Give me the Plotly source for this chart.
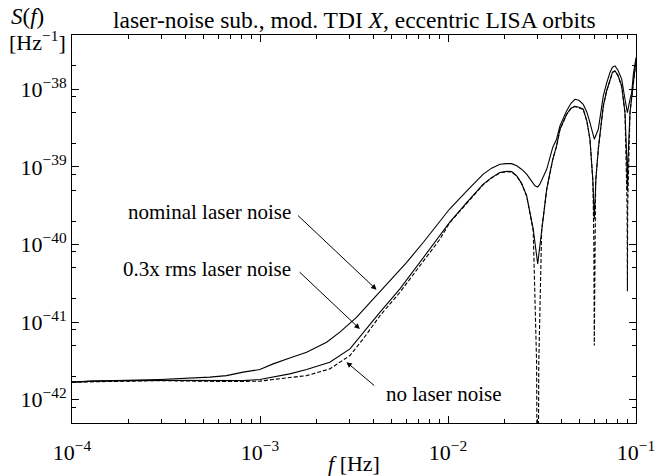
import plotly.graph_objects as go

# ---------------- data ----------------
f_nominal = [1.0e-4, 1.29e-4, 2.93e-4, 4.41e-4, 5.41e-4, 6.64e-4, 8.13e-4, 9.98e-4,
             1.175e-3, 1.44e-3, 1.77e-3, 2.26e-3, 2.66e-3, 3.26e-3, 4.00e-3, 4.91e-3,
             6.03e-3, 7.38e-3, 9.06e-3, 1.02e-2, 1.26e-2, 1.54e-2, 1.706e-2, 1.89e-2,
             2.05e-2, 2.18e-2, 2.32e-2, 2.46e-2, 2.62e-2, 2.76e-2, 2.90e-2, 3.00e-2,
             3.08e-2, 3.35e-2, 3.49e-2, 3.61e-2, 3.78e-2, 3.94e-2, 4.27e-2, 4.51e-2,
             4.73e-2, 4.97e-2, 5.24e-2, 5.48e-2, 5.69e-2, 6.00e-2, 6.30e-2, 6.70e-2,
             6.97e-2, 7.27e-2, 7.50e-2, 7.73e-2, 8.02e-2, 8.39e-2, 8.74e-2, 9.00e-2,
             9.29e-2, 9.49e-2, 9.68e-2, 1.0e-1]
S_nominal = [1.68e-42, 1.73e-42, 1.82e-42, 1.89e-42, 1.95e-42, 2.04e-42, 2.26e-42, 2.44e-42,
             2.89e-42, 3.45e-42, 4.09e-42, 5.50e-42, 7.40e-42, 1.15e-41, 1.98e-41, 3.41e-41,
             5.89e-41, 1.06e-40, 1.97e-40, 2.86e-40, 4.91e-40, 8.05e-40, 9.62e-40, 1.08e-39,
             1.10e-39, 1.10e-39, 1.03e-39, 9.33e-40, 8.05e-40, 6.75e-40, 5.69e-40, 5.5e-40,
             5.98e-40, 9.3e-40, 1.39e-39, 1.79e-39, 2.27e-39, 3.37e-39, 5.26e-39, 6.60e-39,
             7.43e-39, 7.21e-39, 6.41e-39, 5.06e-39, 3.72e-39, 2.27e-39, 3.05e-39, 8.20e-39,
             1.19e-38, 1.64e-38, 1.92e-38, 2.00e-38, 1.76e-38, 1.35e-38, 7.43e-39, 5.01e-39,
             7.4e-39, 9.07e-39, 1.56e-38, 2.56e-38]

f_03x = [1.0e-4, 1.29e-4, 2.93e-4, 4.41e-4, 6.64e-4, 8.13e-4, 9.98e-4, 1.175e-3,
         1.44e-3, 1.77e-3, 2.35e-3, 3.01e-3, 3.54e-3, 4.35e-3, 5.55e-3, 7.09e-3,
         9.06e-3, 1.02e-2, 1.26e-2, 1.54e-2, 1.706e-2, 1.89e-2, 2.05e-2, 2.18e-2,
         2.32e-2, 2.46e-2, 2.62e-2, 2.84e-2, 3.00e-2, 3.15e-2, 3.35e-2, 3.49e-2,
         3.61e-2, 3.78e-2, 3.94e-2, 4.27e-2, 4.51e-2, 4.73e-2, 4.97e-2, 5.24e-2,
         5.48e-2, 5.69e-2, 5.89e-2, 6.00e-2, 6.12e-2, 6.30e-2, 6.70e-2, 6.97e-2,
         7.27e-2, 7.50e-2, 7.73e-2, 8.02e-2, 8.39e-2, 8.74e-2, 8.93e-2, 9.00e-2,
         9.07e-2, 9.29e-2, 9.68e-2, 1.0e-1]
S_03x = [1.68e-42, 1.73e-42, 1.77e-42, 1.76e-42, 1.73e-42, 1.76e-42, 1.82e-42, 1.95e-42,
         2.15e-42, 2.44e-42, 3.04e-42, 4.51e-42, 7.40e-42, 1.34e-41, 2.67e-41, 5.89e-41,
         1.29e-40, 1.92e-40, 3.48e-40, 5.98e-40, 7.26e-40, 8.47e-40, 8.75e-40, 8.67e-40,
         7.66e-40, 6.17e-40, 4.24e-40, 1.58e-40, 5.60e-41, 1.58e-40, 5.16e-40, 8.47e-40,
         1.26e-39, 1.86e-39, 3.05e-39, 4.77e-39, 5.69e-39, 6.04e-39, 5.86e-39, 5.53e-39,
         3.87e-39, 2.27e-39, 6.95e-40, 2.12e-40, 6.95e-40, 1.69e-39, 6.10e-39, 9.42e-39,
         1.35e-38, 1.66e-38, 1.72e-38, 1.51e-38, 1.10e-38, 5.01e-39, 1.26e-39, 4.9e-40,
         1.26e-39, 5.01e-39, 1.22e-38, 2.31e-38]

f_none = [1.0e-4, 2.93e-4, 6.64e-4, 9.98e-4, 1.175e-3, 1.77e-3, 2.35e-3, 3.01e-3,
          3.54e-3, 4.35e-3, 5.55e-3, 7.09e-3, 9.06e-3, 1.02e-2, 1.26e-2, 1.54e-2,
          1.706e-2, 1.89e-2, 2.05e-2, 2.18e-2, 2.32e-2, 2.46e-2, 2.62e-2, 2.84e-2,
          2.96e-2, 3.00e-2, 3.04e-2, 3.15e-2, 3.35e-2, 3.49e-2, 3.61e-2, 3.78e-2,
          3.94e-2, 4.27e-2, 4.51e-2, 4.73e-2, 4.97e-2, 5.24e-2, 5.48e-2, 5.69e-2,
          5.90e-2, 5.97e-2, 6.00e-2, 6.03e-2, 6.10e-2, 6.30e-2, 6.70e-2, 6.97e-2,
          7.27e-2, 7.50e-2, 7.73e-2, 8.02e-2, 8.39e-2, 8.74e-2, 8.97e-2, 9.00e-2,
          9.03e-2, 9.29e-2, 9.68e-2, 1.0e-1]
S_none = [1.68e-42, 1.76e-42, 1.71e-42, 1.73e-42, 1.82e-42, 2.04e-42, 2.49e-42, 3.70e-42,
          6.07e-42, 1.21e-41, 2.42e-41, 5.32e-41, 1.17e-40, 1.90e-40, 3.45e-40, 5.9e-40,
          7.2e-40, 8.4e-40, 8.65e-40, 8.6e-40, 7.6e-40, 6.1e-40, 4.2e-40, 1.5e-40,
          3e-42, 1e-45, 3e-42, 1.55e-40, 5.1e-40, 8.4e-40, 1.25e-39, 1.84e-39,
          3.0e-39, 4.7e-39, 5.65e-39, 6.0e-39, 5.8e-39, 5.5e-39, 3.85e-39, 2.25e-39,
          6.5e-40, 1.0e-40, 4.97e-42, 1.0e-40, 6.5e-40, 1.67e-39, 6.05e-39, 9.35e-39,
          1.34e-38, 1.65e-38, 1.71e-38, 1.50e-38, 1.09e-38, 4.95e-39, 3e-40, 2.5e-41,
          3e-40, 4.95e-39, 1.21e-38, 2.3e-38]

x_tickvals = [1e-4, 1e-3, 1e-2, 1e-1]
x_ticktext = ["10<sup>−4</sup>", "10<sup>−3</sup>", "10<sup>−2</sup>", "10<sup>−1</sup>"]
y_tickvals = [1e-42, 1e-41, 1e-40, 1e-39, 1e-38]
y_ticktext = ["10<sup>−42</sup>", "10<sup>−41</sup>", "10<sup>−40</sup>",
              "10<sup>−39</sup>", "10<sup>−38</sup>"]
y_minor = [m * 10.0 ** e for e in range(-43, -37) for m in (2, 5, 8)]

FONT = "Liberation Serif, Times New Roman, serif"

fig = go.Figure()
fig.add_trace(go.Scatter(x=f_nominal, y=S_nominal, mode="lines",
                         line=dict(color="black", width=1.1), name="nominal"))
fig.add_trace(go.Scatter(x=f_03x, y=S_03x, mode="lines",
                         line=dict(color="black", width=1.1), name="0.3x"))
fig.add_trace(go.Scatter(x=f_none, y=S_none, mode="lines",
                         line=dict(color="black", width=1.1, dash="4px,2px"), name="none"))

fig.update_layout(
    width=656, height=476,
    margin=dict(l=72, r=20, t=35, b=53, autoexpand=False),
    paper_bgcolor="white", plot_bgcolor="white",
    showlegend=False,
    font=dict(family=FONT, size=20, color="black"),
)
common = dict(
    type="log", tickmode="array", showgrid=False, zeroline=False, automargin=False,
    showline=True, linecolor="black", linewidth=1, mirror="allticks",
    ticks="inside", ticklen=7, tickcolor="black", tickwidth=1,
    tickfont=dict(size=22),
)
fig.update_xaxes(range=[-4, -1], tickvals=x_tickvals, ticktext=x_ticktext,
                 ticklabelstandoff=10,
                 minor=dict(ticks="inside", ticklen=4, tickcolor="black", dtick="D1",
                            showgrid=False),
                 **common)
fig.update_yaxes(range=[-42.301, -37.301], tickvals=y_tickvals, ticktext=y_ticktext,
                 minor=dict(ticks="inside", ticklen=4, tickcolor="black",
                            tickvals=y_minor, showgrid=False),
                 **common)

annots = [
    dict(text="laser-noise sub., mod. TDI <i>X</i>, eccentric LISA orbits",
         xref="paper", yref="paper", x=0.5, y=1, yshift=15, xanchor="center",
         yanchor="middle", showarrow=False, font=dict(size=23.5)),
    dict(text="<i>S</i>(<i>f</i>)", xref="paper", yref="paper", x=0, y=1,
         xshift=-45, yshift=19, xanchor="center", yanchor="middle", showarrow=False,
         font=dict(size=23)),
    dict(text="[Hz<sup>−1</sup>]", xref="paper", yref="paper", x=0, y=1,
         xshift=-35, yshift=-6, xanchor="center", yanchor="middle", showarrow=False,
         font=dict(size=22)),
    dict(text="<i>f</i> [Hz]", xref="paper", yref="paper", x=0.5, y=0,
         yshift=-40, xanchor="center", yanchor="middle", showarrow=False,
         font=dict(size=22)),
    # label texts
    dict(text="nominal laser noise", x=-2.825, y=-39.583, xanchor="right",
         yanchor="middle", showarrow=False, font=dict(size=21)),
    dict(text="0.3x rms laser noise", x=-2.825, y=-40.317, xanchor="right",
         yanchor="middle", showarrow=False, font=dict(size=21)),
    dict(text="no laser noise", x=-2.341, y=-41.925, xanchor="left",
         yanchor="middle", showarrow=False, font=dict(size=21)),
]
arrows = [
    (-2.380, -40.583, -2.806, -39.609),
    (-2.469, -41.089, -2.797, -40.339),
    (-2.540, -41.517, -2.384, -41.835),
]
for hx, hy, tx, ty in arrows:
    annots.append(dict(text="", x=hx, y=hy, ax=tx, ay=ty, xref="x", yref="y",
                       axref="x", ayref="y", showarrow=True, arrowhead=2,
                       arrowsize=1.1, arrowwidth=1, arrowcolor="black", standoff=0))
fig.update_layout(annotations=annots)

# remove the browser's default 8px body margin so the figure sits at the page origin
fig.write_html("out.html", config={"displayModeBar": False},
               post_script="document.body.style.margin='0px';")
